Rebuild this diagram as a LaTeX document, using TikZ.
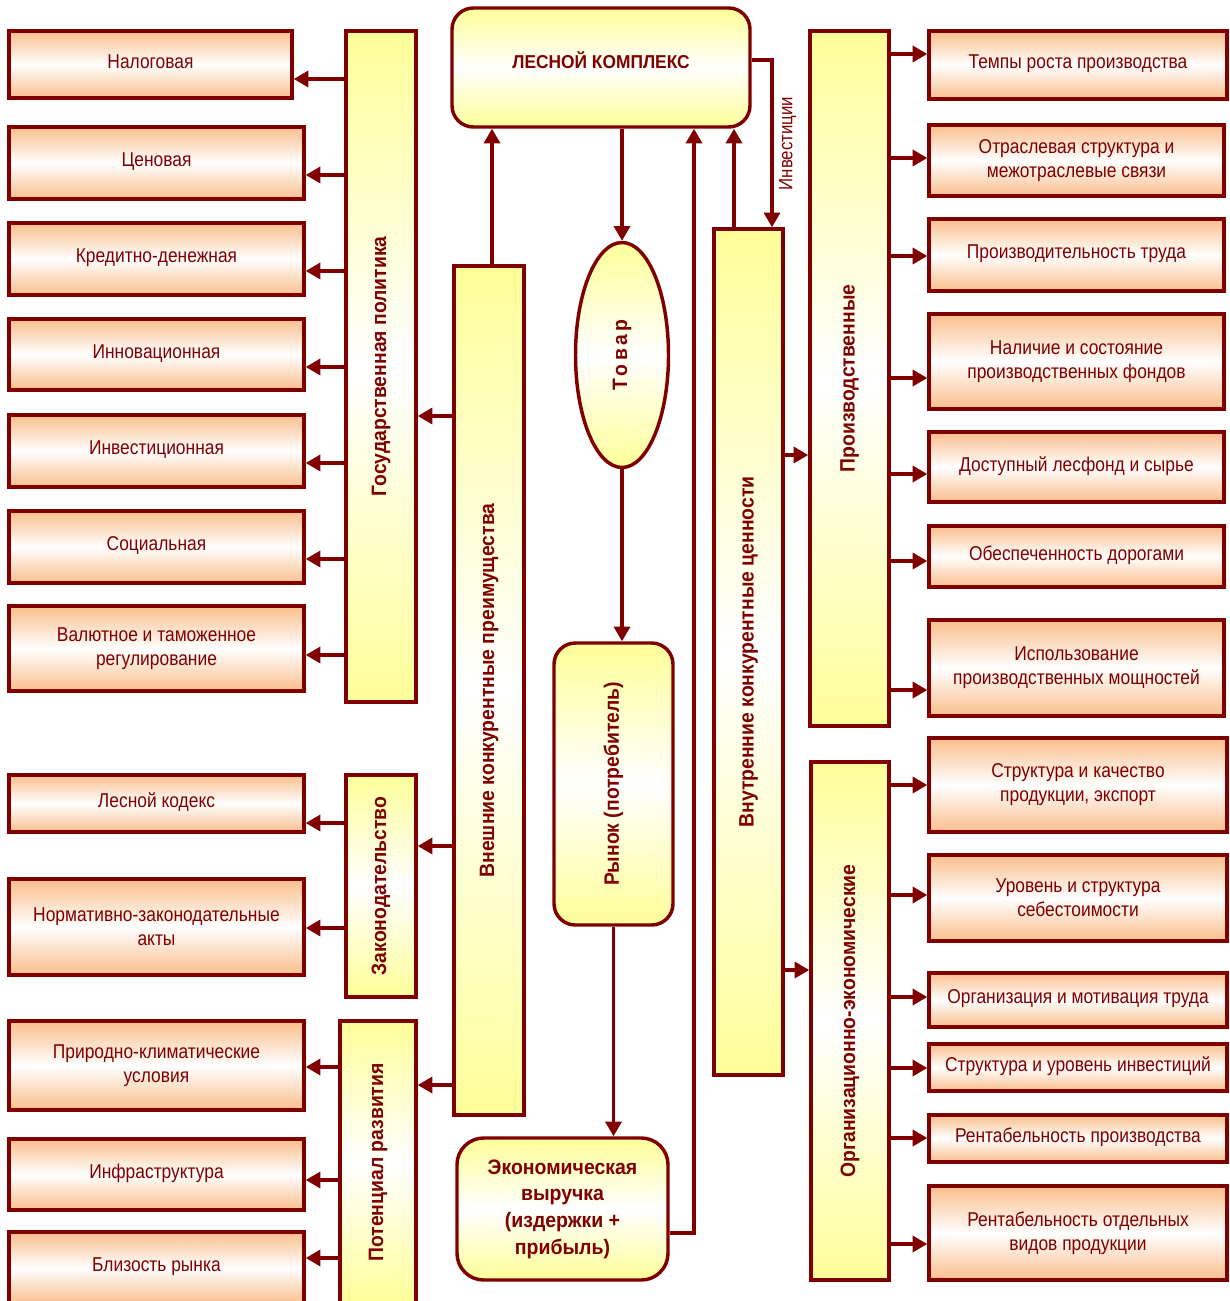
\documentclass[tikz,border=0pt]{standalone}
\usepackage{fontspec}
\setmainfont[FakeStretch=0.87]{Liberation Sans}
\newfontfamily\headfont[FakeStretch=0.93]{Liberation Sans Bold}
\usetikzlibrary{arrows.meta,shapes.geometric}
\definecolor{darkred}{RGB}{128,0,0}
\definecolor{paleyellow}{RGB}{255,255,153}
\definecolor{paleorange}{RGB}{250,190,140}
\tikzset{every picture/.style={line width=2.6pt}}
\tikzset{
	dims/.style 2 args={minimum width=#1*0.75pt, minimum height=#2*0.75pt},
	factor/.style={draw=darkred, line width=2.6pt, top color=paleorange, bottom color=paleorange, middle color=white, inner sep=0pt, text=darkred, align=center, font=\fontsize{15}{18}\selectfont},
	factor1/.style={factor, text depth=5pt},
	groupbar/.style={draw=darkred, line width=2.6pt, top color=paleyellow, bottom color=paleyellow, middle color=white, inner sep=0pt, text=darkred, font=\headfont\fontsize{15.6}{18}\selectfont},
	hub/.style={groupbar, rounded corners=16pt, align=center},
	link/.style={draw=darkred, line width=2.6pt, -{Triangle[length=11pt,width=12pt]}},
}

\begin{document}
\begin{tikzpicture}[x=0.75pt,y=0.75pt,yscale=-1,xscale=1]
	\useasboundingbox (0,0) rectangle (1229,1301);
	%Rounded Rect: central complex
	\node [hub][dims={298}{119}, text depth=11pt, font=\headfont\fontsize{14}{18}\selectfont] (complex) at (601,67.5) {ЛЕСНОЙ КОМПЛЕКС};
	%Shape: Ellipse
	\node [groupbar, ellipse][dims={93}{225}] (goods) at (622,355) {\rotatebox{90}{\addfontfeature{LetterSpace=18}Товар}};
	%Rounded Rect: market
	\node [hub][dims={119}{282}] (market) at (613.5,784) {\rotatebox{90}{Рынок (потребитель)}};
	%Rounded Rect: revenue
	\node [hub][dims={211}{142}, rounded corners=20pt, font=\headfont\fontsize{15.7}{20}\selectfont] (revenue) at (562.5,1209) {Экономическая\\выручка\\(издержки +\\прибыль)};

	%Shape: Rectangle (bars)
	\node [groupbar][dims={70}{671}] (state) at (381,366.5) {\rotatebox{90}{Государственная политика}};
	\node [groupbar][dims={70}{222}] (law) at (381,886) {\rotatebox{90}{Законодательство}};
	\node [groupbar][dims={76}{283}] (potential) at (378,1162.5) {\rotatebox{90}{Потенциал развития}};
	\node [groupbar][dims={70}{849}] (external) at (489,690.5) {\rotatebox{90}{Внешние конкурентные преимущества}};
	\node [groupbar][dims={69}{846}] (internal) at (748.5,652) {\rotatebox{90}{Внутренние конкурентные ценности}};
	\node [groupbar][dims={79}{695}] (production) at (849.5,378.5) {\rotatebox{90}{Производственные}};
	\node [groupbar][dims={78}{518}] (orgecon) at (850,1021) {\rotatebox{90}{Организационно-экономические}};

	%Shape: Rectangle (left factors)
	\node [factor1][dims={283}{67}] (tax) at (150.5,64.5) {Налоговая};
	\node [factor1][dims={295}{72}] (price) at (156.5,163) {Ценовая};
	\node [factor1][dims={295}{72}] (credit) at (156.5,259) {Кредитно-денежная};
	\node [factor1][dims={295}{71}] (innov) at (156.5,354.5) {Инновационная};
	\node [factor1][dims={295}{72}] (invest) at (156.5,451) {Инвестиционная};
	\node [factor1][dims={295}{72}] (social) at (156.5,547) {Социальная};
	\node [factor][dims={295}{85}] (currency) at (156.5,648.5) {Валютное и таможенное\\регулирование};
	\node [factor1][dims={295}{57}] (code) at (156.5,803.5) {Лесной кодекс};
	\node [factor][dims={295}{96}] (acts) at (156.5,927) {Нормативно-законодательные\\акты};
	\node [factor][dims={295}{89}] (climate) at (156.5,1065.5) {Природно-климатические\\условия};
	\node [factor1][dims={295}{71}] (infra) at (156.5,1174.5) {Инфраструктура};
	\node [factor1][dims={295}{72}] (nearmarket) at (156.5,1268) {Близость рынка};

	%Shape: Rectangle (right factors)
	\node [factor1][dims={298}{68}] (growth) at (1078,65) {Темпы роста производства};
	\node [factor][dims={295}{71}] (branch) at (1076.5,160.5) {Отраслевая структура и\\межотраслевые связи};
	\node [factor1][dims={295}{72}] (labour) at (1076.5,255) {Производительность труда};
	\node [factor][dims={295}{95}] (assets) at (1076.5,361.5) {Наличие и состояние\\производственных фондов};
	\node [factor1][dims={295}{70}] (forest) at (1076.5,467) {Доступный лесфонд и сырье};
	\node [factor1][dims={295}{61}] (roads) at (1076.5,556.5) {Обеспеченность дорогами};
	\node [factor][dims={295}{96}] (capacity) at (1076.5,668) {Использование\\производственных мощностей};
	\node [factor][dims={298}{94}] (quality) at (1078,785) {Структура и качество\\продукции, экспорт};
	\node [factor][dims={298}{86}] (cost) at (1078,898) {Уровень и структура\\себестоимости};
	\node [factor1][dims={298}{54}] (motiv) at (1078,1000) {Организация и мотивация труда};
	\node [factor1][dims={298}{47}] (invlevel) at (1078,1067.5) {Структура и уровень инвестиций};
	\node [factor1][dims={298}{47}] (profit) at (1078,1138.5) {Рентабельность производства};
	\node [factor][dims={298}{94}] (profitkind) at (1078,1233) {Рентабельность отдельных\\видов продукции};

	%Straight Lines: central loop
	\draw [link] (complex.south -| goods.north) -- (goods.north);
	\draw [link] (goods.south) -- (market.north -| goods.south);
	\draw [link] (market.south) -- (revenue.north -| market.south);
	\draw [link] (revenue.east |- 0,1233) -| (complex.south -| 694,0);
	\draw [link] (external.north -| 492,0) -- (complex.south -| 492,0);
	\draw [link] (internal.north -| 734,0) -- (complex.south -| 734,0);
	\draw [link] (complex.east |- 0,60) -| (internal.north -| 772,0) node [pos=0.75, anchor=north, rotate=90, inner sep=4pt, text=darkred, font=\fontsize{14.5}{17}\selectfont] (investlabel) {Инвестиции};

	%Straight Lines: external advantages
	\draw [link] (external.west |- 0,416) -- (state.east |- 0,416);
	\draw [link] (external.west |- 0,846) -- (law.east |- 0,846);
	\draw [link] (external.west |- 0,1085) -- (potential.east |- 0,1085);
	\draw [link] (state.west |- 0,79) -- (tax.east |- 0,79);
	\draw [link] (state.west |- 0,175) -- (price.east |- 0,175);
	\draw [link] (state.west |- 0,271) -- (credit.east |- 0,271);
	\draw [link] (state.west |- 0,367) -- (innov.east |- 0,367);
	\draw [link] (state.west |- 0,463) -- (invest.east |- 0,463);
	\draw [link] (state.west |- 0,559) -- (social.east |- 0,559);
	\draw [link] (state.west |- 0,655) -- (currency.east |- 0,655);
	\draw [link] (law.west |- 0,823) -- (code.east |- 0,823);
	\draw [link] (law.west |- 0,928) -- (acts.east |- 0,928);
	\draw [link] (potential.west |- 0,1067) -- (climate.east |- 0,1067);
	\draw [link] (potential.west |- 0,1180) -- (infra.east |- 0,1180);
	\draw [link] (potential.west |- 0,1258) -- (nearmarket.east |- 0,1258);

	%Straight Lines: internal values
	\draw [link] (internal.east |- 0,455) -- (production.west |- 0,455);
	\draw [link] (internal.east |- 0,970) -- (orgecon.west |- 0,970);
	\draw [link] (production.east |- 0,54) -- (growth.west |- 0,54);
	\draw [link] (production.east |- 0,158) -- (branch.west |- 0,158);
	\draw [link] (production.east |- 0,256) -- (labour.west |- 0,256);
	\draw [link] (production.east |- 0,378) -- (assets.west |- 0,378);
	\draw [link] (production.east |- 0,474) -- (forest.west |- 0,474);
	\draw [link] (production.east |- 0,561) -- (roads.west |- 0,561);
	\draw [link] (production.east |- 0,690) -- (capacity.west |- 0,690);
	\draw [link] (orgecon.east |- 0,785) -- (quality.west |- 0,785);
	\draw [link] (orgecon.east |- 0,895) -- (cost.west |- 0,895);
	\draw [link] (orgecon.east |- 0,997) -- (motiv.west |- 0,997);
	\draw [link] (orgecon.east |- 0,1068) -- (invlevel.west |- 0,1068);
	\draw [link] (orgecon.east |- 0,1138) -- (profit.west |- 0,1138);
	\draw [link] (orgecon.east |- 0,1244) -- (profitkind.west |- 0,1244);
\end{tikzpicture}
\end{document}
